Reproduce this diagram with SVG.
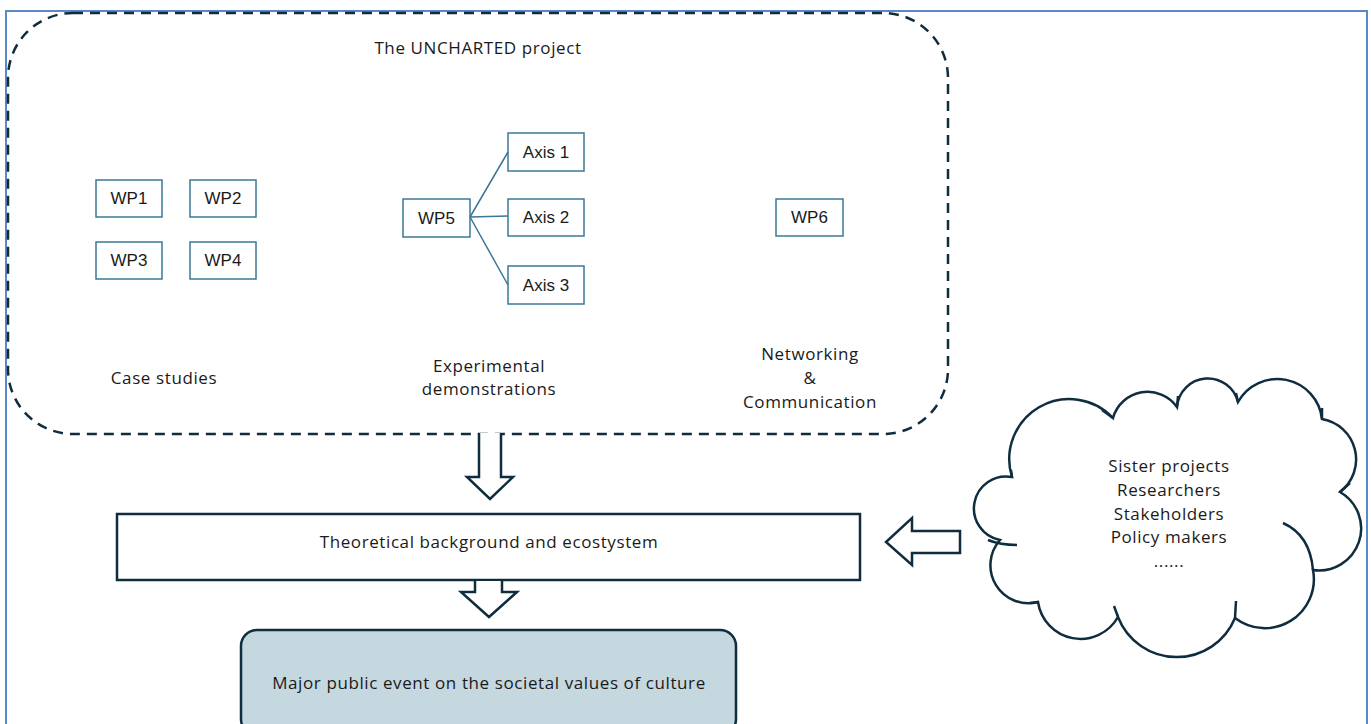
<svg xmlns="http://www.w3.org/2000/svg" width="1371" height="724" viewBox="0 0 1371 724">
<style>
.t{font-family:"Open Sans","Liberation Sans",sans-serif;font-size:17px;letter-spacing:0.6px;fill:#1a1a1a;text-anchor:middle}
.w{font-family:"Liberation Sans",Arial,sans-serif;font-size:17px;fill:#1a1a1a;text-anchor:middle}
.wp{fill:#fff;stroke:#3a7897;stroke-width:1.5}
.dk{fill:#fff;stroke:#0f2d3f;stroke-width:2.5}
.ar{fill:#fff;stroke:#0f2d3f;stroke-width:2.5;stroke-linejoin:miter}
.ln{stroke:#3a7897;stroke-width:1.5;fill:none}
</style>
<rect x="0" y="0" width="1371" height="724" fill="#fff"/>
<rect id="frame" x="6" y="11" width="1361" height="740" fill="none" stroke="#5a8ac6" stroke-width="2"/>
<g id="project">
<rect x="8" y="13" width="940" height="421" rx="65" ry="65" fill="none" stroke="#0f2d3f" stroke-width="2.5" stroke-dasharray="10,7"/>
<text class="t" x="478" y="54">The UNCHARTED project</text>
<text class="t" x="164" y="384">Case studies</text>
<text class="t" x="489" y="372">Experimental</text>
<text class="t" x="489" y="395">demonstrations</text>
<text class="t" x="810" y="360">Networking</text>
<text class="t" x="810" y="384">&amp;</text>
<text class="t" x="810" y="408">Communication</text>
</g>
<g id="wp1"><rect class="wp" x="96" y="180" width="66" height="37"/><text class="w" x="129" y="204">WP1</text></g>
<g id="wp2"><rect class="wp" x="190" y="180" width="66" height="37"/><text class="w" x="223" y="204">WP2</text></g>
<g id="wp3"><rect class="wp" x="96" y="242" width="66" height="37"/><text class="w" x="129" y="266">WP3</text></g>
<g id="wp4"><rect class="wp" x="190" y="242" width="66" height="37"/><text class="w" x="223" y="266">WP4</text></g>
<g id="wp5"><rect class="wp" x="403" y="199" width="67" height="38"/><text class="w" x="436.5" y="224">WP5</text></g>
<g id="axis1"><rect class="wp" x="508" y="133" width="76" height="38"/><text class="w" x="546" y="158">Axis 1</text></g>
<g id="axis2"><rect class="wp" x="508" y="199" width="76" height="37"/><text class="w" x="546" y="223">Axis 2</text></g>
<g id="axis3"><rect class="wp" x="508" y="266" width="76" height="38"/><text class="w" x="546" y="291">Axis 3</text></g>
<g id="wp6"><rect class="wp" x="776" y="199" width="67" height="37"/><text class="w" x="809.5" y="223">WP6</text></g>
<g id="theory"><rect class="dk" x="117" y="514" width="743" height="66"/><text class="t" x="489" y="548">Theoretical background and ecostystem</text></g>
<g id="event"><rect x="241" y="630" width="495" height="105" rx="16" ry="16" fill="#c5d8e0" stroke="#0f2d3f" stroke-width="2.5"/><text class="t" x="489" y="689">Major public event on the societal values of culture</text></g>
<g id="cloud">
<path fill="#fff" stroke="#0f2d3f" stroke-width="2.5" d="M1012,477 A60,60 0 0 1 1113,418 A36,36 0 0 1 1177,407 A31,31 0 0 1 1238,402 A45,45 0 0 1 1322,419 A41,41 0 0 1 1340,492 A42,42 0 0 1 1313,570 A49,49 0 0 1 1235,618 A63,63 0 0 1 1118,617 A43,43 0 0 1 1038,602 A38,38 0 0 1 1000,540 A32,32 0 0 1 1012,477 Z"/>
<path fill="none" stroke="#0f2d3f" stroke-width="2.5" d="M1283,523 Q1310,535 1313,570 M988,540 Q1000,545 1017,545 M1118,617 L1114,606 M1235,618 L1236,601 M1322,419 L1322,408 M1340,492 L1350,483 M1038,602 L1030,603 M1113,418 L1102,410 M1177,407 L1178,396 M1238,402 L1236,393 M1012,477 L1011,470"/>
<text class="t" x="1169" y="472">Sister projects</text>
<text class="t" x="1169" y="496">Researchers</text>
<text class="t" x="1169" y="520">Stakeholders</text>
<text class="t" x="1169" y="543">Policy makers</text>
<text class="t" x="1169" y="567">......</text>
</g>
<g id="connectors">
<path class="ln" d="M470,217 L508,152 M470,217 L508,216 M470,217 L508,285"/>
<path class="ar" d="M479,433 L479,477 L467,477 L490,499 L513,477 L501,477 L501,433"/>
<path class="ar" d="M475,581 L475,592 L461,592 L489,617 L517,592 L502,592 L502,581"/>
<path class="ar" d="M960,531 L912,531 L912,518 L886,542 L912,565 L912,553 L960,553 Z"/>
</g>
</svg>
